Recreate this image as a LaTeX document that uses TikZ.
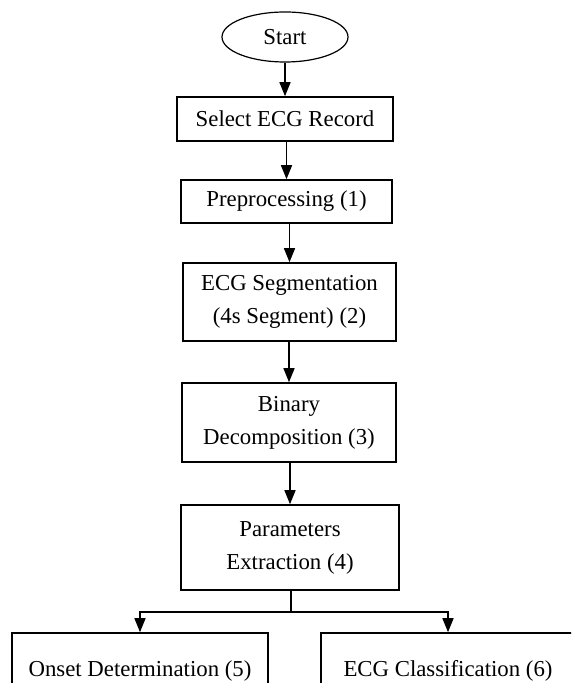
\documentclass[tikz,border=0pt]{standalone}
\usepackage{fontspec}
\setmainfont{Liberation Serif}
\usetikzlibrary{shapes,arrows.meta}

\tikzset{
  proc/.style={draw, line width=0.8pt, align=center, inner sep=0pt,
    font=\fontsize{11.4}{16.5}\selectfont},
  flow/.style={line width=0.75pt, -{Triangle[length=7pt,width=5.5pt]}}
}

\begin{document}
\begin{tikzpicture}[x=0.5pt,y=-0.5pt]
  \useasboundingbox (0,0) rectangle (571,683);
  \clip (0,0) rectangle (571,683);
  \node[proc, ellipse, line width=0.6pt, minimum width=63pt, minimum height=25pt] (Start) at (285,37) {Start};
  \node[proc, minimum width=108pt, minimum height=22pt] (Select) at (285,119) {Select ECG Record};
  \node[proc, minimum width=105.5pt, minimum height=21.5pt] (Pre) at (286.5,201.5) {Preprocessing (1)};
  \node[proc, minimum width=106.5pt, minimum height=39pt] (Seg) at (289.5,302) {ECG Segmentation\\(4s Segment) (2)};
  \node[proc, minimum width=107pt, minimum height=39.5pt] (Bin) at (289,422.5) {Binary\\Decomposition (3)};
  \node[proc, minimum width=109pt, minimum height=42.5pt] (Par) at (290,547.5) {Parameters\\Extraction (4)};
  \node[proc, minimum width=128pt, minimum height=38pt] (Onset) at (140,671) {Onset Determination (5)};
  \node[proc, minimum width=127pt, minimum height=38pt] (Class) at (448,671) {ECG Classification (6)};
  \coordinate (Fork) at (291,612);
  \draw[flow] (Start) -- (Start |- Select.north);
  \draw[flow] (Select.south -| Pre) -- (Pre);
  \draw[flow] (Pre.south -| Seg) -- (Seg);
  \draw[flow] (Seg.south -| Bin) -- (Bin);
  \draw[flow] (Bin.south -| Par) -- (Par);
  \draw[line width=0.75pt] (Par.south -| Fork) -- (Fork);
  \draw[flow] (Fork) -| (Onset);
  \draw[flow] (Fork) -| (Class);
\end{tikzpicture}
\end{document}
